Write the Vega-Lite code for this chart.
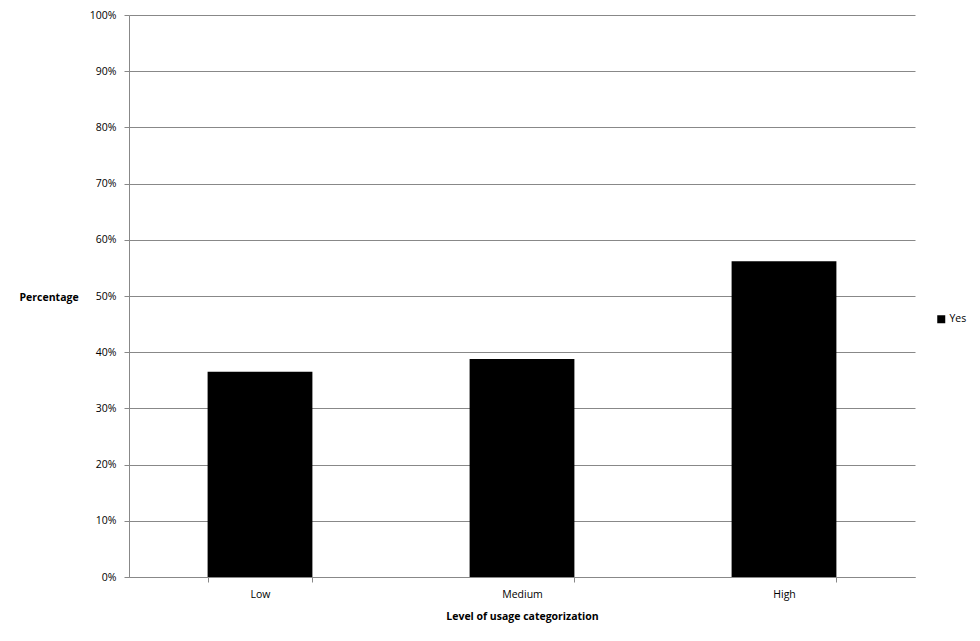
{
  "$schema": "https://vega.github.io/schema/vega-lite/v6.json",
  "width": 786,
  "height": 562,
  "autosize": {"type": "none"},
  "padding": {"left": 129, "top": 15, "right": 65, "bottom": 64},
  "background": "white",
  "data": {"values": [
    {"level": "Low", "series": "Yes", "pct": 0.365},
    {"level": "Medium", "series": "Yes", "pct": 0.388},
    {"level": "High", "series": "Yes", "pct": 0.562}
  ]},
  "mark": {"type": "bar", "color": "black"},
  "encoding": {
    "x": {
      "field": "level", "type": "nominal", "sort": ["Low", "Medium", "High"],
      "scale": {"paddingInner": 0.6, "paddingOuter": 0.3},
      "axis": {
        "title": "Level of usage categorization",
        "labelAngle": 0, "tickBand": "extent", "tickSize": 5,
        "labelPadding": 7, "titlePadding": 12, "grid": false,
        "domainColor": "#888888", "tickColor": "#888888"
      }
    },
    "y": {
      "field": "pct", "type": "quantitative",
      "scale": {"domain": [0, 1]},
      "axis": {
        "title": "Percentage", "format": ".0%", "values": [0,0.1,0.2,0.3,0.4,0.5,0.6,0.7,0.8,0.9,1],
        "labelOverlap": false,
        "tickSize": 5, "labelPadding": 8,
        "titleAngle": 0, "titleX": -110, "titleY": 282, "titleAlign": "left", "titleBaseline": "middle",
        "gridColor": "#888888", "gridOpacity": 1, "domainColor": "#888888", "tickColor": "#888888"
      }
    },
    "color": {
      "field": "series", "type": "nominal",
      "scale": {"range": ["black"]},
      "legend": {"title": null, "orient": "none", "legendX": 807, "legendY": 299, "symbolType": "square", "symbolSize": 64, "labelOffset": 3}
    }
  },
  "config": {
    "font": "Open Sans",
    "view": {"stroke": null},
    "axis": {"labelFont": "Open Sans", "labelFontSize": 10.5, "labelColor": "#000", "titleFont": "Open Sans", "titleFontSize": 10.5, "titleFontWeight": "bold", "titleColor": "#000", "domainWidth": 1, "gridWidth": 1},
    "legend": {"labelFont": "Open Sans", "labelFontSize": 10.5, "labelColor": "#000"}
  }
}
